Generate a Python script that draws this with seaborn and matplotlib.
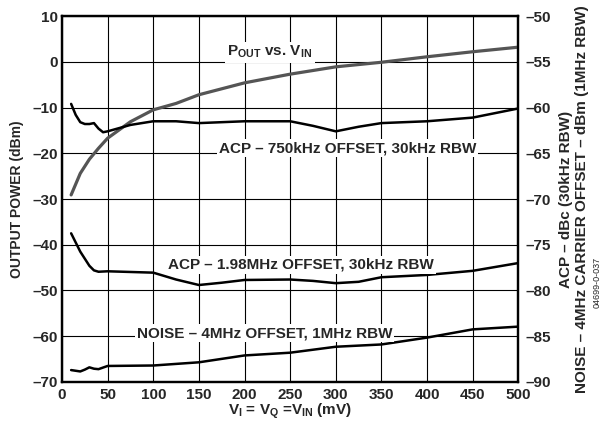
import numpy as np
import pandas as pd
import matplotlib
matplotlib.use("Agg")
import matplotlib.pyplot as plt
import seaborn as sns

# Data
# POUT vs VIN (left axis, dBm)
pout_vin = [10, 20, 30, 40, 50, 75, 100, 125, 150, 200, 250, 300, 350, 400, 450, 500]
pout_dbm = [-29.1, -24.4, -21.3, -18.9, -16.7, -13.1, -10.5, -9.1, -7.2, -4.6, -2.7, -1.1, -0.1, 1.1, 2.2, 3.2]

# ACP 750kHz offset (right axis, dBc)
acp750_vin = [10, 15, 20, 25, 30, 35, 40, 45, 50, 75, 100, 125, 150, 200, 250, 275, 300, 325, 350, 400, 450, 500]
acp750_dbc = [-59.6, -60.8, -61.6, -61.8, -61.8, -61.7, -62.3, -62.7, -62.6, -61.9, -61.5, -61.5, -61.7,
              -61.5, -61.5, -62.0, -62.6, -62.1, -61.7, -61.5, -61.1, -60.1]

# ACP 1.98MHz offset (right axis, dBc)
acp198_vin = [10, 20, 30, 35, 40, 50, 100, 125, 150, 175, 200, 250, 275, 300, 325, 350, 400, 450, 500]
acp198_dbc = [-73.75, -75.75, -77.3, -77.8, -77.95, -77.9, -78.05, -78.8, -79.4, -79.15, -78.85, -78.8,
              -78.95, -79.2, -79.05, -78.55, -78.3, -77.85, -77.0]

# Noise 4MHz offset (right axis, dBm)
noise_vin = [10, 20, 25, 30, 35, 40, 50, 100, 150, 200, 250, 300, 350, 400, 450, 500]
noise_dbm = [-88.7, -88.85, -88.65, -88.4, -88.55, -88.6, -88.25, -88.2, -87.85, -87.1, -86.8,
             -86.15, -85.9, -85.15, -84.25, -83.95]

x_ticks = [0, 50, 100, 150, 200, 250, 300, 350, 400, 450, 500]
left_ticks = [10, 0, -10, -20, -30, -40, -50, -60, -70]
right_ticks = [-50, -55, -60, -65, -70, -75, -80, -85, -90]

sns.set_style("white")
plt.rcParams['font.family'] = ['Liberation Sans', 'DejaVu Sans']
plt.rcParams['font.weight'] = 'bold'
plt.rcParams['mathtext.fontset'] = 'custom'
plt.rcParams['mathtext.rm'] = 'Liberation Sans:bold'
plt.rcParams['mathtext.it'] = 'Liberation Sans:bold'
plt.rcParams['mathtext.bf'] = 'Liberation Sans:bold'

fs = 11
fig, ax = plt.subplots(figsize=(6.02, 4.23), dpi=100)
fig.subplots_adjust(left=0.103, right=0.861, bottom=0.097, top=0.962)

# left axis: POUT
sns.lineplot(x=pout_vin, y=pout_dbm, ax=ax, color="#555555", linewidth=2.3, zorder=3)
ax.set_xlim(0, 500)
ax.set_ylim(-70, 10)
ax.set_xticks(x_ticks)
ax.set_yticks(left_ticks)
ax.grid(True, color="black", linewidth=0.8)
ax.set_axisbelow(True)
ax.tick_params(axis='y', length=0, labelsize=fs, pad=3)
ax.tick_params(axis='x', length=0, labelsize=fs, pad=4)
ax.set_ylabel("OUTPUT POWER (dBm)", fontsize=10, fontweight='bold', labelpad=6)
ax.set_xlabel(r"V$_I$ = V$_Q$ =V$_{IN}$ (mV)", fontsize=fs, fontweight='bold', labelpad=0)
for s in ax.spines.values():
    s.set_linewidth(1.6)
    s.set_color("black")

# right axis: ACP / noise
ax2 = ax.twinx()
sns.lineplot(x=acp750_vin, y=acp750_dbc, ax=ax2, color="black", linewidth=1.8)
sns.lineplot(x=acp198_vin, y=acp198_dbc, ax=ax2, color="black", linewidth=1.8)
sns.lineplot(x=noise_vin, y=noise_dbm, ax=ax2, color="black", linewidth=1.8)
ax2.set_ylim(-90, -50)
ax2.set_yticks(right_ticks)
ax2.tick_params(length=0, labelsize=fs, pad=5)
ax2.set_ylabel("ACP \u2013 dBc (30kHz RBW)\nNOISE \u2013 4MHz CARRIER OFFSET \u2013 dBm (1MHz RBW)",
               fontsize=fs, fontweight='bold', labelpad=6)
for s in ax2.spines.values():
    s.set_linewidth(1.6)
    s.set_color("black")

# minus signs as en dashes
ax.set_yticklabels([str(v).replace('-', '\u2013') for v in left_ticks])
ax2.set_yticklabels([str(v).replace('-', '\u2013') for v in right_ticks])

box = dict(facecolor="white", edgecolor="none", pad=1.5)
ax2.text(228, -53.95, r"P$_{OUT}$ vs. V$_{IN}$", fontsize=fs, ha="center", va="center", bbox=box)
ax2.text(313, -64.45, "ACP \u2013 750kHz OFFSET, 30kHz RBW", fontsize=fs, ha="center", va="center", bbox=box)
ax2.text(262, -77.2, "ACP \u2013 1.98MHz OFFSET, 30kHz RBW", fontsize=fs, ha="center", va="center", bbox=box)
ax2.text(222, -84.65, "NOISE \u2013 4MHz OFFSET, 1MHz RBW", fontsize=fs, ha="center", va="center", bbox=box)

fig.text(0.992, 0.333, "04699-0-037", fontsize=6.5, fontweight='normal', rotation=90, ha="center", va="center")

fig.savefig("out.png", dpi=100)
